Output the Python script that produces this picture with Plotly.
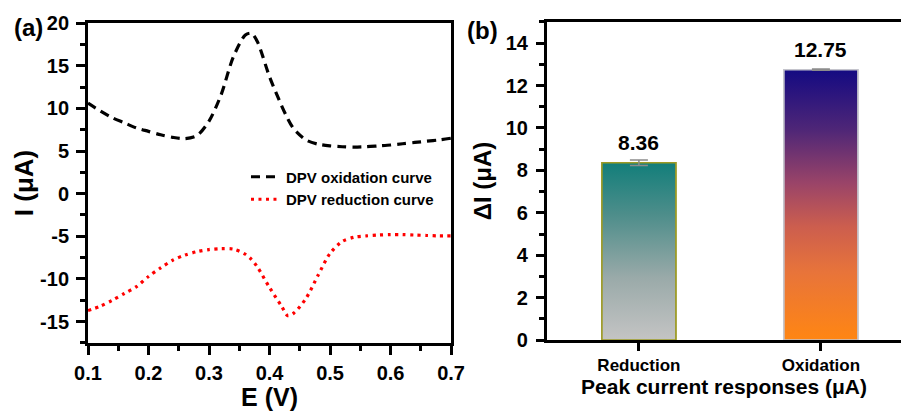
import plotly.graph_objects as go

# ---------------- data ----------------
E = [0.10, 0.12, 0.14, 0.16, 0.18, 0.20, 0.22, 0.24, 0.26, 0.28, 0.30, 0.32,
     0.34, 0.36, 0.37, 0.38, 0.40, 0.42, 0.43, 0.44, 0.46, 0.48, 0.50, 0.52,
     0.54, 0.56, 0.58, 0.60, 0.62, 0.64, 0.66, 0.68, 0.70]
I_oxidation = [10.6, 9.7, 8.9, 8.3, 7.7, 7.3, 6.9, 6.6, 6.45, 6.8, 8.5, 11.6,
               16.0, 18.6, 18.8, 17.8, 13.7, 10.3, 8.8, 7.6, 6.3, 5.8, 5.6, 5.5,
               5.45, 5.5, 5.6, 5.7, 5.85, 6.0, 6.15, 6.3, 6.5]
I_reduction = [-13.7, -13.2, -12.5, -11.7, -10.9, -9.7, -8.7, -7.8, -7.2, -6.8, -6.55, -6.45,
               -6.5, -7.1, -7.7, -8.6, -11.0, -13.2, -14.3, -14.0, -12.3, -9.6, -7.0, -5.6,
               -5.1, -4.95, -4.85, -4.8, -4.8, -4.85, -4.9, -4.95, -4.95]

categories = ["Reduction", "Oxidation"]
delta_I = [8.36, 12.75]
delta_I_err = [0.13, 0.03]

x_ticks_a = [0.1, 0.2, 0.3, 0.4, 0.5, 0.6, 0.7]
y_ticks_a = [-15, -10, -5, 0, 5, 10, 15, 20]
y_ticks_b = [0, 2, 4, 6, 8, 10, 12, 14]

# ---------------- styles ----------------
FONT = "Liberation Sans, Arial, sans-serif"
bar_w = 0.406
bar_borders = ["#9c9a24", "#c4c4cc"]
bar_scales = [
    [[0.0, "#c4c4c4"], [0.35, "#9aaaa9"], [0.7, "#4f8e8b"], [1.0, "#127e7a"]],
    [[0.0, "#ff8613"], [0.25, "#e8743a"], [0.42, "#cc5e4e"], [0.58, "#9a4468"],
     [0.78, "#4e2677"], [1.0, "#140a82"]],
]


def bold(vals):
    return [f"<b>{v}</b>" for v in vals]


fig = go.Figure()

# ---------- panel (a) ----------
fig.add_trace(go.Scatter(
    x=E, y=I_oxidation, mode="lines", name="DPV oxidation curve",
    line=dict(color="black", width=3.2, dash="9px,6px", shape="spline", smoothing=0.8),
    xaxis="x", yaxis="y"))
fig.add_trace(go.Scatter(
    x=E, y=I_reduction, mode="lines", name="DPV reduction curve",
    line=dict(color="#ff0000", width=3.2, dash="3px,4.5px", shape="spline", smoothing=0.8),
    xaxis="x", yaxis="y"))

# ---------- panel (b) ----------
fig.add_trace(go.Bar(
    x=[0, 1], y=delta_I, width=bar_w, showlegend=False, hoverinfo="skip",
    marker=dict(color="rgba(0,0,0,0)", line=dict(color=bar_borders, width=1.5)),
    xaxis="x2", yaxis="y2"))
for i, v in enumerate(delta_I):
    h = bar_w / 2
    fig.add_trace(go.Scatter(
        x=[i - h, i + h, i + h, i - h, i - h], y=[0, 0, v, v, 0],
        mode="lines", fill="toself", showlegend=False, hoverinfo="skip",
        line=dict(color=bar_borders[i], width=1.5),
        fillgradient=dict(type="vertical", colorscale=bar_scales[i]),
        xaxis="x2", yaxis="y2"))
fig.add_trace(go.Scatter(
    x=[0, 1], y=delta_I, mode="markers", showlegend=False, hoverinfo="skip",
    marker=dict(size=1, color="rgba(0,0,0,0)"),
    error_y=dict(type="data", array=delta_I_err, color="#8c8c8c", thickness=1.5, width=9),
    xaxis="x2", yaxis="y2"))

annotations = []
for i, v in enumerate(delta_I):
    annotations.append(dict(
        x=i, y=v, xref="x2", yref="y2", text=f"<b>{v:.2f}</b>", showarrow=False,
        yshift=20, font=dict(family=FONT, size=21, color="black")))
annotations.append(dict(x=0.013, y=0.932, xref="paper", yref="paper", text="<b>(a)</b>",
                        showarrow=False, xanchor="left", yanchor="middle",
                        font=dict(family=FONT, size=24, color="black")))
annotations.append(dict(x=0.516, y=0.927, xref="paper", yref="paper", text="<b>(b)</b>",
                        showarrow=False, xanchor="left", yanchor="middle",
                        font=dict(family=FONT, size=24, color="black")))

tickfont = dict(family=FONT, size=20, color="black")
axis_common = dict(showline=True, linecolor="black", linewidth=3, ticks="outside",
                   tickcolor="black", tickwidth=3, showgrid=False, zeroline=False,
                   automargin=False)

fig.update_layout(
    width=901, height=411,
    margin=dict(l=0, r=0, t=0, b=0, autoexpand=False),
    paper_bgcolor="white", plot_bgcolor="white",
    showlegend=True,
    legend=dict(x=0.273, y=0.6095, xanchor="left", yanchor="top",
                bgcolor="rgba(0,0,0,0)", tracegroupgap=0,
                font=dict(family=FONT, size=15, color="black", weight="bold")),
    xaxis=dict(domain=[0.0977, 0.5006], range=[0.1, 0.7], tickvals=x_ticks_a,
               ticktext=bold(x_ticks_a), tickfont=tickfont, ticklabelstandoff=1,
               ticklen=9, mirror=True,
               minor=dict(dtick=0.05, tick0=0.1, ticks="outside", ticklen=5,
                          tickwidth=3, tickcolor="black"),
               title=dict(text="<b>E (V)</b>", standoff=8,
                          font=dict(family=FONT, size=25, color="black")),
               **axis_common),
    yaxis=dict(domain=[0.1655, 0.9440], range=[-17.5, 20], tickvals=y_ticks_a,
               ticktext=bold(y_ticks_a), tickfont=tickfont, ticklabelstandoff=3,
               ticklen=9, mirror=True,
               minor=dict(dtick=2.5, tick0=0, ticks="outside", ticklen=5,
                          tickwidth=3, tickcolor="black"),
               title=dict(text="<b>I (μA)</b>", standoff=0,
                          font=dict(family=FONT, size=26, color="black")),
               **axis_common),
    xaxis2=dict(domain=[0.6071, 1.0], range=[-0.505, 1.44], tickvals=[0, 1],
                ticktext=bold(categories), ticklen=8, mirror=True, anchor="y2",
                ticklabelstandoff=0,
                tickfont=dict(family=FONT, size=17, color="black"),
                title=dict(text="<b>Peak current responses (μA)</b>", standoff=2,
                           font=dict(family=FONT, size=21, color="black")),
                **axis_common),
    yaxis2=dict(domain=[0.1727, 0.9465], range=[0, 15], tickvals=y_ticks_b,
                ticktext=bold(y_ticks_b), tickfont=tickfont, ticklabelstandoff=4,
                ticklen=8, mirror=False, anchor="x2",
                minor=dict(dtick=1, tick0=0, ticks="outside", ticklen=5,
                           tickwidth=3, tickcolor="black"),
                title=dict(text="<b>ΔI (μA)</b>", standoff=8,
                           font=dict(family=FONT, size=24, color="black")),
                **axis_common),
    annotations=annotations,
)

fig.write_html("out.html",
               config={"displayModeBar": False},
               post_script="document.body.style.margin='0px';"
                           "document.body.style.overflow='hidden';")
